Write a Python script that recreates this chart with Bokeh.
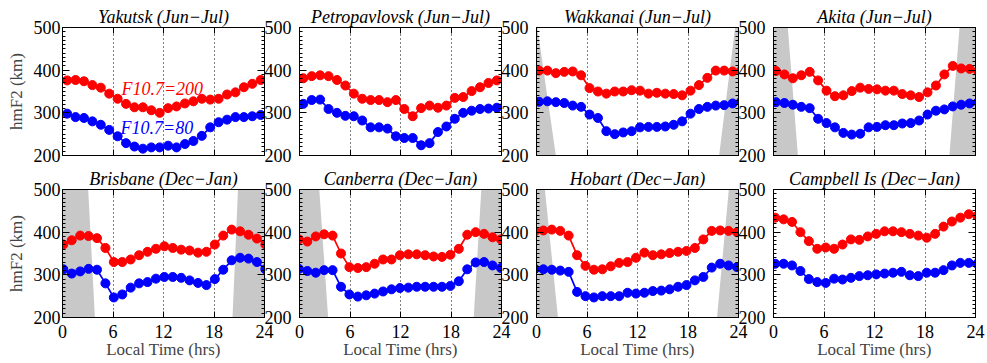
from bokeh.plotting import figure
from bokeh.layouts import gridplot
from bokeh.models import Range1d, LinearAxis, FixedTicker, Label, CustomLabelingPolicy
from bokeh.embed import file_html
from bokeh.resources import INLINE

# ---------------- data ----------------
STATIONS = ["Yakutsk", "Petropavlovsk", "Wakkanai", "Akita",
            "Brisbane", "Canberra", "Hobart", "Campbell Is"]
SEASONS = ["Jun\u2212Jul"] * 4 + ["Dec\u2212Jan"] * 4
LT_OFFSET = [0.55, 0.45, 0.3, 0.3, 0.1, -0.07, -0.18, 0.2]
HOURS = list(range(25))
X_TICKS = [0, 6, 12, 18, 24]
GRID_X = [6, 12, 18]
Y_TICKS = [200, 300, 400, 500]
Y_MINOR = list(range(200, 501, 10))

yakutsk_f200 = [376, 377, 374, 365, 359, 345, 333, 321, 313, 313, 306, 300, 311, 315, 322, 327, 333, 331, 333, 343, 348, 360, 368, 377, 378]
yakutsk_f80 = [298, 290, 288, 280, 272, 260, 245, 229, 221, 216, 219, 219, 223, 219, 227, 234, 246, 266, 278, 284, 290, 290, 292, 295, 297]
petropavlovsk_f200 = [381, 386, 388, 386, 377, 364, 345, 333, 330, 330, 325, 330, 309, 292, 311, 317, 312, 317, 335, 337, 351, 360, 370, 376, 381]
petropavlovsk_f80 = [321, 330, 331, 309, 300, 293, 292, 282, 266, 266, 263, 245, 241, 241, 224, 229, 255, 268, 286, 300, 305, 309, 310, 312, 318]
wakkanai_f200 = [399, 399, 393, 396, 397, 388, 358, 350, 345, 350, 350, 353, 352, 345, 347, 345, 344, 341, 352, 365, 382, 399, 399, 397, 399]
wakkanai_f80 = [326, 327, 325, 323, 317, 314, 296, 288, 257, 250, 254, 257, 266, 267, 267, 268, 272, 280, 298, 309, 314, 317, 318, 322, 326]
akita_f200 = [398, 390, 381, 388, 396, 376, 352, 339, 341, 351, 359, 356, 355, 352, 352, 344, 341, 337, 348, 364, 390, 410, 404, 403, 398]
akita_f80 = [325, 323, 319, 314, 311, 286, 276, 266, 253, 249, 251, 266, 267, 271, 271, 275, 276, 282, 296, 305, 308, 315, 319, 322, 325]
brisbane_f200 = [371, 381, 392, 391, 386, 363, 330, 330, 336, 346, 354, 361, 367, 363, 359, 357, 352, 354, 371, 392, 406, 402, 394, 385, 371]
brisbane_f80 = [313, 303, 308, 314, 312, 280, 247, 254, 270, 280, 283, 291, 295, 295, 293, 287, 281, 276, 290, 312, 334, 340, 338, 330, 313]
canberra_f200 = [383, 378, 390, 395, 392, 350, 318, 316, 318, 326, 336, 336, 346, 348, 348, 346, 343, 342, 347, 361, 394, 400, 396, 388, 383]
canberra_f80 = [314, 309, 305, 311, 311, 272, 254, 249, 252, 256, 261, 266, 269, 270, 272, 272, 272, 272, 274, 285, 313, 329, 330, 322, 316]
hobart_f200 = [402, 404, 406, 403, 392, 346, 321, 312, 313, 320, 328, 330, 340, 352, 346, 348, 351, 354, 356, 363, 383, 403, 404, 403, 400]
hobart_f80 = [314, 313, 312, 310, 307, 260, 250, 247, 250, 250, 250, 258, 256, 258, 262, 263, 266, 272, 276, 287, 295, 317, 326, 322, 318]
campbell_f200 = [434, 430, 424, 400, 379, 361, 364, 361, 371, 383, 382, 390, 396, 402, 402, 400, 396, 392, 387, 396, 413, 425, 434, 442, 438]
campbell_f80 = [326, 326, 322, 309, 290, 283, 281, 291, 289, 293, 297, 299, 301, 303, 305, 307, 299, 297, 305, 305, 311, 322, 328, 328, 326]

F200 = [yakutsk_f200, petropavlovsk_f200, wakkanai_f200, akita_f200,
        brisbane_f200, canberra_f200, hobart_f200, campbell_f200]
F80 = [yakutsk_f80, petropavlovsk_f80, wakkanai_f80, akita_f80,
       brisbane_f80, canberra_f80, hobart_f80, campbell_f80]

# night shading (hours): dawn edge at top/bottom of panel, dusk edge at bottom/top
DAWN_TOP = [None, None, 0.1, 1.7, 3.05, 2.35, 1.0, None]
DAWN_BOTTOM = [None, None, 2.3, 2.9, 3.85, 3.4, 2.55, None]
DUSK_BOTTOM = [None, None, 21.7, 20.9, 20.2, 20.7, 21.45, None]
DUSK_TOP = [None, None, 23.6, 22.1, 20.85, 21.6, 22.85, None]

# ---------------- style ----------------
FONT = "Liberation Serif"
FRAME_W, FRAME_H = 202, 128
BORDER_LEFT = [62, 5, 5, 5]
BORDER_RIGHT = [26, 26, 26, 12]
BORDER_TOP = [27, 22]
BORDER_BOTTOM = [11, 47]
GRAY = "#c8c8c8"

HIDE_JS = """
const n = indices.size;
for (let i = 0; i < n; i++) {
  if (typeof indices.unset === "function") { indices.unset(i) } else { indices.set(i, false) }
}
return indices;
"""


def style_axis(ax, ticker, major_in, minor_in, labels):
    ax.ticker = ticker
    ax.major_tick_in = major_in
    ax.major_tick_out = 0
    ax.minor_tick_in = minor_in
    ax.minor_tick_out = 0
    ax.axis_line_color = "black"
    ax.major_tick_line_color = "black"
    ax.minor_tick_line_color = "black"
    ax.major_label_text_font = FONT
    ax.major_label_text_color = "black"
    ax.major_label_text_font_size = "18px"
    if not labels:
        ax.major_label_text_font_size = "0px"
        ax.major_label_standoff = 0
        ax.major_label_policy = CustomLabelingPolicy(code=HIDE_JS)


def make_panel(i):
    row, col = divmod(i, 4)
    p = figure(frame_width=FRAME_W, frame_height=FRAME_H,
               x_range=Range1d(X_TICKS[0], X_TICKS[-1]),
               y_range=Range1d(Y_TICKS[0], Y_TICKS[-1]),
               output_backend="svg", toolbar_location=None,
               min_border_left=BORDER_LEFT[col], min_border_right=BORDER_RIGHT[col],
               min_border_top=BORDER_TOP[row], min_border_bottom=BORDER_BOTTOM[row],
               background_fill_color="white", border_fill_color="white",
               outline_line_color="black")
    p.title.text = f"{STATIONS[i]} ({SEASONS[i]})"
    p.title.align = "center"
    p.title.text_font = FONT
    p.title.text_font_style = "italic"
    p.title.text_font_size = "18px"
    p.title.text_color = "black"
    p.title.standoff = 1

    top = LinearAxis()
    right = LinearAxis()
    p.add_layout(top, "above")
    p.add_layout(right, "right")

    xb = p.below[0]
    yl = p.left[0]
    style_axis(xb, FixedTicker(ticks=X_TICKS, minor_ticks=[]), 6, 0, row == 1)
    style_axis(top, FixedTicker(ticks=X_TICKS, minor_ticks=[]), 6, 0, False)
    # y tick labels: first column on its left axis, others carried by the
    # right axis of the neighbouring panel (they sit in the gap between frames)
    style_axis(yl, FixedTicker(ticks=Y_TICKS, minor_ticks=Y_MINOR), 7, 3, col == 0)
    style_axis(right, FixedTicker(ticks=Y_TICKS, minor_ticks=Y_MINOR), 7, 3, col < 3)
    yl.major_label_standoff = 2 if col == 0 else 0
    if col < 3:
        right.major_label_standoff = 0
    if row == 1:
        xb.major_label_standoff = 7
        xb.axis_label = "Local Time (hrs)"
        xb.axis_label_text_font = FONT
        xb.axis_label_text_font_style = "normal"
        xb.axis_label_text_font_size = "17px"
        xb.axis_label_standoff = -1
    if col == 0:
        yl.axis_label = "hmF2 (km)"
        yl.axis_label_text_font = FONT
        yl.axis_label_text_font_style = "normal"
        yl.axis_label_text_font_size = "17px"
        yl.axis_label_standoff = 5

    p.xgrid.ticker = FixedTicker(ticks=GRID_X)
    p.xgrid.grid_line_color = "black"
    p.xgrid.grid_line_dash = "1 3"
    p.xgrid.grid_line_width = 1
    p.ygrid.visible = False

    y0, y1 = Y_TICKS[0], Y_TICKS[-1]
    x0, x1 = X_TICKS[0], X_TICKS[-1]
    if DAWN_TOP[i] is not None:
        p.patch([x0, DAWN_BOTTOM[i], DAWN_TOP[i], x0], [y0, y0, y1, y1],
                fill_color=GRAY, line_color=None)
        p.patch([DUSK_BOTTOM[i], x1, x1, DUSK_TOP[i]], [y0, y0, y1, y1],
                fill_color=GRAY, line_color=None)

    xs = [h + LT_OFFSET[i] for h in HOURS]
    for vals, c in ((F200[i], "#ff0000"), (F80[i], "#0000ff")):
        p.line(xs, vals, line_color=c, line_width=1.7)
        p.scatter(xs, vals, size=9, marker="circle", fill_color=c, line_color=c)

    if i == 0:
        p.add_layout(Label(x=7.0, y=357, text="F10.7=200", text_align="left",
                           text_baseline="middle", text_font=FONT, text_font_style="italic",
                           text_font_size="18px", text_color="#ff0000"))
        p.add_layout(Label(x=6.9, y=265, text="F10.7=80", text_align="left",
                           text_baseline="middle", text_font=FONT, text_font_style="italic",
                           text_font_size="18px", text_color="#0000ff"))
    return p


panels = [make_panel(i) for i in range(8)]
grid = gridplot([panels[:4], panels[4:]], toolbar_location=None)

open("out.html", "w").write(file_html(grid, INLINE))
